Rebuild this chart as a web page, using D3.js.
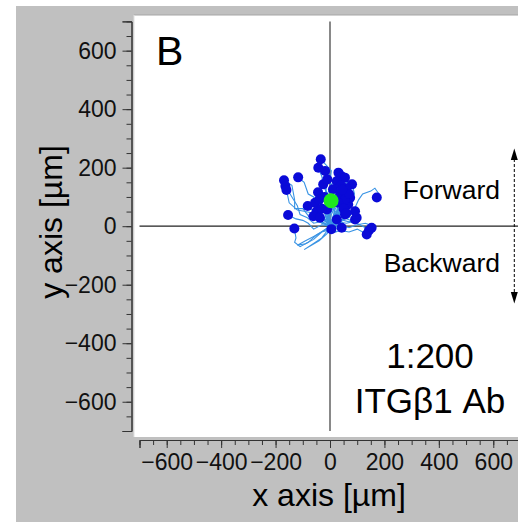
<!DOCTYPE html>
<html><head><meta charset="utf-8">
<script src="https://cdn.jsdelivr.net/npm/d3@7"></script>
<style>
body{margin:0;background:#fff}
svg{display:block}
text{font-family:"Liberation Sans",Arial,Helvetica,sans-serif}
</style>
</head><body>
<svg id="c" width="518" height="522"></svg>
<script>
// ---- data (µm) ----
const xTicks = [-600,-400,-200,0,200,400,600];
const yTicks = [-600,-400,-200,0,200,400,600];
const minorTicks = d3.range(-700, 701, 50);
const panelLabel = "B";
const conditionLines = ["1:200", "ITGβ1 Ab"];
const directionLabels = ["Forward", "Backward"];
const xTitle = "x axis [µm]";
const yTitle = "y axis [µm]";
// Individual cell tracks, each from origin to its end point
const tracks = [
  [[0,0],[-10,30],[5,60],[-10,90],[15,120],[0,150],[5,190],[-20,215],[-34,229]],
  [[0,0],[20,50],[-5,80],[-10,110],[-25,140],[-30,170],[-43,200]],
  [[0,0],[-5,40],[5,80],[-10,110],[10,150],[-5,180],[-18,189]],
  [[0,0],[-20,20],[-40,40],[-45,75],[-60,100],[-80,110],[-95,150],[-117,167]],
  [[0,0],[-30,15],[-50,30],[-75,30],[-100,60],[-130,60],[-130,90],[-140,140],[-169,157]],
  [[0,0],[-35,15],[-60,10],[-85,30],[-110,40],[-120,70],[-140,100],[-164,137]],
  [[0,0],[-20,10],[-40,20],[-65,45],[-90,50],[-120,55],[-150,80],[-160,124]],
  [[0,0],[15,30],[30,60],[10,90],[10,120],[35,140],[40,160],[31,183]],
  [[0,0],[15,40],[15,70],[40,90],[55,110],[50,130],[60,150],[43,171]],
  [[0,0],[20,25],[40,50],[50,80],[70,100],[75,130],[55,166]],
  [[0,0],[-15,30],[-15,60],[10,85],[30,110],[40,130],[25,154]],
  [[0,0],[15,20],[35,40],[60,55],[80,90],[61,120]],
  [[0,0],[20,5],[40,20],[70,30],[90,60],[105,90],[120,110],[150,120],[165,130],[180,110],[172,98]],
  [[0,0],[-10,25],[-30,20],[-45,45],[-60,50],[-82,69]],
  [[0,0],[-30,5],[-60,-10],[-80,10],[-100,20],[-125,25],[-154,38]],
  [[0,0],[-25,-15],[-50,-30],[-80,-55],[-110,-70],[-130,-55],[-125,-40],[-131,-8]],
  [[0,0],[10,-12],[20,-20],[35,-15],[43,-5]],
  [[0,0],[20,-5],[40,-15],[70,-20],[100,-10],[120,-20],[135,-28]],
  [[0,0],[30,15],[60,10],[85,15],[110,5],[130,-5],[143,-15]],
  [[0,0],[35,5],[70,-5],[100,5],[130,10],[145,5],[153,-5]],
  [[0,0],[25,10],[50,20],[70,15],[92,23]],
  [[0,0],[20,25],[40,40],[60,25],[75,20],[98,29]],
  [[0,0],[15,20],[30,30],[50,30],[70,40],[92,51]],
  [[0,0],[10,20],[25,40],[45,50],[67,74]],
  [[0,0],[20,30],[40,60],[60,80],[74,97]],
  [[0,0],[-10,35],[-20,70],[-5,90],[-10,110],[-25,143]],
  [[0,0],[-15,20],[-30,40],[-40,65],[-55,80]],
  [[0,0],[-10,10],[-20,20],[-35,35],[-49,51]],
  [[0,0],[-15,5],[-30,10],[-45,20],[-61,34]],
  [[0,0],[-8,8],[-15,15],[-25,20],[-37,29]],
  [[0,0],[5,8],[10,15],[25,23]],
  [[0,0],[10,30],[20,60],[5,95],[11,126]],
  [[0,0],[15,25],[25,50],[30,80],[37,109]],
  [[0,0],[-5,25],[-11,57]],
  [[0,0],[15,10],[30,20],[55,40]],
  [[0,0],[-30,-20],[-60,-45],[-90,-60],[-120,-65],[-90,-50],[-60,-35],[-30,-20],[5,-10]],
  [[0,0],[-10,25],[-20,50],[-35,85],[-44,116]],
  [[0,0],[25,30],[50,60],[75,80],[90,110],[81,143]],
  [[0,0],[15,25],[30,50],[40,70],[55,90]],
  [[0,0],[-5,30],[10,60],[-15,80],[-20,100]],
  [[0,0],[10,25],[25,50],[30,80]],
  [[0,0],[20,20],[35,45],[50,60]],
  [[0,0],[-15,30],[-25,60],[-40,90]],
  [[0,0],[20,40],[45,80],[60,105],[60,130]],
  [[0,0],[-20,25],[-30,45],[-30,60]],
  [[0,0],[25,45],[50,85],[70,110]],
  [[0,0],[5,40],[30,90],[40,140]],
  [[0,0],[-5,50],[-15,120],[-10,160]],
  [[0,0],[30,40],[55,70],[45,125]],
  [[0,0],[-10,-25],[-40,-50],[-95,-80],[-70,-65],[-30,-40],[-10,-15],[20,-5],[40,15],[60,45]]
];
const centroid = [4, 87];

// ---- drawing ----
const svg = d3.select("#c");
const x = d3.scaleLinear().domain([-700,700]).range([139.5,520.5]);
const y = d3.scaleLinear().domain([-700,700]).range([431,21.4]);

svg.append("rect").attr("x",16).attr("y",6).attr("width",502).attr("height",516).attr("fill","#c0c0c0");
svg.append("rect").attr("x",134).attr("y",15).attr("width",384).attr("height",422).attr("fill","#fff");
svg.append("line").attr("x1",134).attr("x2",518).attr("y1",15).attr("y2",15).attr("stroke","#a6a6a6");
svg.append("line").attr("x1",134).attr("x2",134).attr("y1",15).attr("y2",437).attr("stroke","#e0e0e0");

// zero lines
svg.append("line").attr("x1",x(0)).attr("x2",x(0)).attr("y1",y(700)).attr("y2",y(-700)).attr("stroke","#3a3a3a").attr("stroke-width",1.2);
svg.append("line").attr("x1",x(-700)).attr("x2",518).attr("y1",y(0)).attr("y2",y(0)).attr("stroke","#222").attr("stroke-width",1.2);

// axes
function styleAxis(g){
  g.selectAll("path,line").attr("stroke","#333");
  g.selectAll("text").attr("fill","#111").style("font-size","23px");
}
const gy = svg.append("g").attr("transform","translate(131.5,0)");
gy.append("g").call(d3.axisLeft(y).tickValues(minorTicks).tickSize(5).tickSizeOuter(9).tickFormat(""));
gy.append("g").call(d3.axisLeft(y).tickValues(yTicks).tickSize(9).tickSizeOuter(9).tickPadding(6));
styleAxis(gy);
const gx = svg.append("g").attr("transform","translate(0,440)");
gx.append("g").call(d3.axisBottom(x).tickValues(minorTicks).tickSize(5).tickSizeOuter(8).tickFormat(""));
gx.append("g").call(d3.axisBottom(x).tickValues(xTicks).tickSize(8).tickSizeOuter(8).tickPadding(6));
styleAxis(gx);
svg.selectAll(".domain").attr("stroke","#333");

// tracks
const line = d3.line().x(d=>x(d[0])).y(d=>y(d[1])).curve(d3.curveLinear);
svg.append("g").selectAll("path").data(tracks).join("path")
  .attr("d", line).attr("fill","none").attr("stroke","#3a94e4").attr("stroke-width",1.1);
svg.append("g").selectAll("circle").data(tracks).join("circle")
  .attr("cx", d=>x(d[d.length-1][0])).attr("cy", d=>y(d[d.length-1][1]))
  .attr("r",5).attr("fill","#0a0ad8");
svg.append("circle").attr("cx",x(centroid[0])).attr("cy",y(centroid[1])).attr("r",7.5).attr("fill","#1ee81e");

// texts
svg.append("text").attr("x",156).attr("y",65).style("font-size","41px").attr("fill","#000").text(panelLabel);
svg.append("text").attr("x",500).attr("y",199).attr("text-anchor","end").style("font-size","26.5px").attr("fill","#000").text(directionLabels[0]);
svg.append("text").attr("x",500).attr("y",272).attr("text-anchor","end").style("font-size","26.5px").attr("fill","#000").text(directionLabels[1]);
conditionLines.forEach((t,i)=>{
  svg.append("text").attr("x",430).attr("y",368+i*45).attr("text-anchor","middle").style("font-size","35px").attr("fill","#000").text(t);
});
svg.append("text").attr("x",329).attr("y",506).attr("text-anchor","middle").style("font-size","32px").attr("fill","#000").text(xTitle);
svg.append("text").attr("transform","translate(62,222) rotate(-90)").attr("text-anchor","middle").style("font-size","32px").attr("fill","#000").text(yTitle);

// direction arrow
svg.append("line").attr("x1",514.3).attr("x2",514.3).attr("y1",159).attr("y2",293).attr("stroke","#000").attr("stroke-width",1).attr("stroke-dasharray","3,2");
svg.append("path").attr("d","M514.3,148.5L510.8,160L517.8,160Z").attr("fill","#000");
svg.append("path").attr("d","M514.3,303.5L510.8,292L517.8,292Z").attr("fill","#000");
</script>
</body></html>
